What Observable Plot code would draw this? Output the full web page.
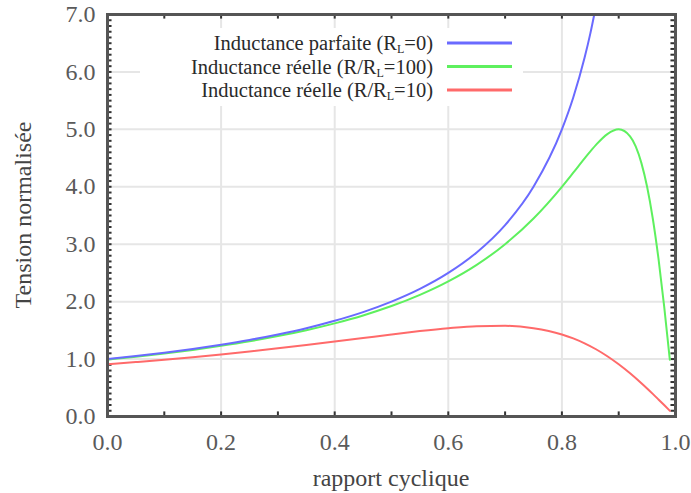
<!DOCTYPE html>
<html><head><meta charset="utf-8">
<script src="https://cdn.jsdelivr.net/npm/d3@7"></script>
<script src="https://cdn.jsdelivr.net/npm/@observablehq/plot@0.6"></script>
<style>body{margin:0;background:#fff} svg text{font-family:"Liberation Serif","Times New Roman",serif}</style>
</head><body><div id="chart"></div>
<script>
// duty cycle values (rapport cyclique)
const dutyBlue  = [0,0.05,0.1,0.15,0.2,0.25,0.3,0.35,0.4,0.45,0.5,0.55,0.6,0.65,0.7,0.75,0.8,0.82,0.84,0.85,0.857];
const vBlue     = [1.000,1.053,1.111,1.176,1.250,1.333,1.429,1.538,1.667,1.818,2.000,2.222,2.500,2.857,3.333,4.000,5.000,5.556,6.250,6.667,7.000];
const duty      = [0,0.05,0.1,0.15,0.2,0.25,0.3,0.35,0.4,0.45,0.5,0.55,0.6,0.65,0.7,0.75,0.8,0.82,0.84,0.86,0.88,0.9,0.92,0.94,0.95,0.96,0.97,0.98,0.99];
const vGreen    = [0.990,1.041,1.098,1.160,1.231,1.310,1.400,1.503,1.622,1.760,1.923,2.118,2.353,2.641,3.000,3.448,4.000,4.245,4.494,4.730,4.918,5.000,4.878,4.412,4.000,3.448,2.752,1.923,0.990];
const vRed      = [0.909,0.948,0.989,1.033,1.081,1.132,1.187,1.244,1.304,1.366,1.429,1.488,1.538,1.573,1.579,1.538,1.429,1.360,1.274,1.171,1.049,0.909,0.752,0.579,0.488,0.394,0.297,0.199,0.100];
const xTicks = [0,0.2,0.4,0.6,0.8,1.0];
const yTicks = [0,1,2,3,4,5,6,7];
const xMinor = d3.range(0, 11).map(i => i / 10);
const yMinor = d3.range(0, 71).map(i => i / 10);
const seriesNames = ["Inductance parfaite", "Inductance réelle", "Inductance réelle"];
const seriesParams = [["(R", "L", "=0)"], ["(R/R", "L", "=100)"], ["(R/R", "L", "=10)"]];
const colors = ["#6a6aff", "#5ef05e", "#ff6a6a"];

const blue = dutyBlue.map((d, i) => ({d, v: vBlue[i]}));
const green = duty.map((d, i) => ({d, v: vGreen[i]}));
const red = duty.map((d, i) => ({d, v: vRed[i]}));

const W = 691, H = 493;
const FONT = '"Liberation Serif", "Times New Roman", serif';
const plot = Plot.plot({
  width: W, height: H,
  marginLeft: 107, marginRight: 16, marginTop: 14, marginBottom: 77,
  x: {domain: [0, 1]},
  y: {domain: [0, 7]},
  style: {fontFamily: FONT, fontSize: "24px", color: "#555", background: "#fff"},
  marks: [
    Plot.gridX(xTicks, {stroke: "#e6e6e6", strokeOpacity: 1, strokeWidth: 2}),
    Plot.gridY(yTicks, {stroke: "#e6e6e6", strokeOpacity: 1, strokeWidth: 2}),
    Plot.axisX(xTicks, {tickSize: 0, tickPadding: 16, tickFormat: d3.format(".1f"), label: null, fill: "#5a5a5a"}),
    Plot.axisY(yTicks, {tickSize: 0, tickPadding: 12, tickFormat: d3.format(".1f"), label: null, fill: "#5a5a5a"}),
    Plot.ruleX(xMinor, {x: d => d, y1: 0, y2: 0.08, stroke: "#333", strokeWidth: 2}),
    Plot.ruleX(xMinor, {x: d => d, y1: 7, y2: 6.92, stroke: "#333", strokeWidth: 2}),
    Plot.ruleY(yMinor, {y: d => d, x1: 0, x2: 0.008, stroke: "#333", strokeWidth: 2}),
    Plot.ruleY(yMinor, {y: d => d, x1: 1, x2: 0.992, stroke: "#333", strokeWidth: 2}),
    Plot.line(red, {x: "d", y: "v", stroke: colors[2], strokeWidth: 2, curve: "monotone-x"}),
    Plot.line(green, {x: "d", y: "v", stroke: colors[1], strokeWidth: 2, curve: "monotone-x"}),
    Plot.line(blue, {x: "d", y: "v", stroke: colors[0], strokeWidth: 2, curve: "monotone-x", clip: true}),
    Plot.frame({stroke: "#555", strokeWidth: 3})
  ]
});
const svg = d3.select(plot);
// legend box
const lg = svg.append("g").attr("font-family", FONT);
lg.append("rect").attr("x", 140).attr("y", 28).attr("width", 383).attr("height", 78).attr("fill", "#fff");
const rowsY = [43, 66.5, 90];
seriesNames.forEach((name, i) => {
  const t = lg.append("text").attr("x", 433).attr("y", rowsY[i]).attr("dy", "0.35em")
    .attr("text-anchor", "end").attr("fill", "#2a2a2a")
    .attr("font-family", FONT).attr("font-size", 20.5);
  t.append("tspan").text(name + " " + seriesParams[i][0]);
  t.append("tspan").text(seriesParams[i][1]).attr("dy", 3).attr("font-size", 12);
  t.append("tspan").text(seriesParams[i][2]).attr("dy", -3);
  lg.append("line").attr("x1", 447).attr("x2", 512).attr("y1", rowsY[i]).attr("y2", rowsY[i])
    .attr("stroke", colors[i]).attr("stroke-width", 3);
});
// axis titles
svg.append("text").attr("x", 391).attr("y", 478).attr("dy", "0.35em").attr("text-anchor", "middle")
  .attr("fill", "#444").attr("font-family", FONT).attr("font-size", 24).text("rapport cyclique");
svg.append("text").attr("transform", "translate(23,215) rotate(-90)").attr("dy", "0.35em").attr("text-anchor", "middle")
  .attr("fill", "#444").attr("font-family", FONT).attr("font-size", 24).text("Tension normalisée");
document.getElementById("chart").append(plot);
</script>
</body></html>
